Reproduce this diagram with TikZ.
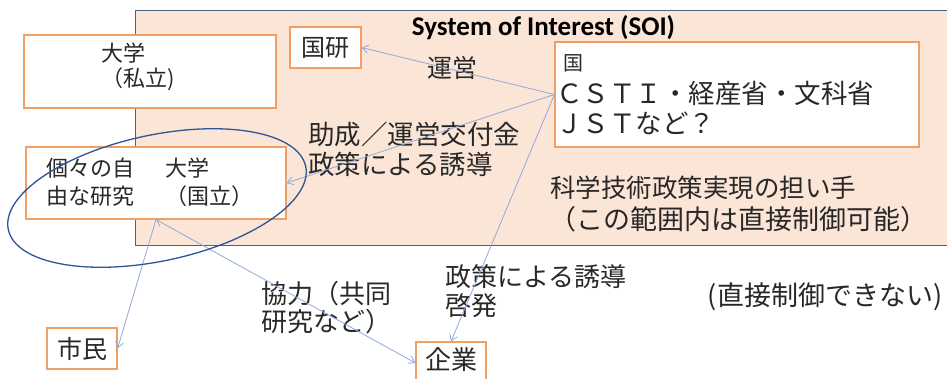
\documentclass[tikz,border=0pt]{standalone}
\usepackage{fontspec}
\setmainfont{Noto Sans CJK JP}
\newfontfamily\calfont{Carlito}
\usetikzlibrary{arrows.meta,shapes.geometric}
\definecolor{soifill}{RGB}{251,229,214}
\definecolor{soiline}{RGB}{80,96,126}
\definecolor{boxline}{RGB}{240,160,100}
\definecolor{arrowc}{RGB}{143,170,220}
\definecolor{ellc}{RGB}{47,85,151}
\definecolor{ink}{RGB}{40,40,40}
\newcommand{\fs}[2]{\fontsize{#1}{#2}\selectfont}
\begin{document}
\begin{tikzpicture}[x=1pt,y=-1pt,
  box/.style={draw=boxline,line width=1.1pt,fill=white,inner sep=0pt,rectangle},
  txt/.style={inner sep=0pt,anchor=west,align=left,text=ink},
  ctxt/.style={inner sep=0pt,align=center,text=ink},
  conn/.style={draw=arrowc,line width=0.8pt,-{Straight Barb[length=6pt,width=8pt]}},
  dconn/.style={draw=arrowc,line width=0.8pt,{Straight Barb[length=6pt,width=8pt]}-{Straight Barb[length=6pt,width=8pt]}},
]
\useasboundingbox (0,0) rectangle (947,378);
\node[draw=soiline,line width=1pt,fill=soifill,minimum width=830pt,minimum height=235pt,inner sep=0pt] (soi) at (550,127.5) {};
\node[inner sep=0pt,anchor=base,font={\calfont\bfseries\fs{27}{30}}] (title) at (543.5,35) {System of Interest (SOI)};

\node[box,minimum width=252pt,minimum height=73pt] (shiritsu) at (150,71.5) {};
\node[box,minimum width=71pt,minimum height=41pt] (kokken) at (325.5,47.5) {};
\node[box,minimum width=364pt,minimum height=105pt] (kuni) at (737,94.5) {};
\node[box,minimum width=260pt,minimum height=72pt] (kokuritsu) at (156,183) {};
\node[box,minimum width=70pt,minimum height=41pt] (shimin) at (82,348.5) {};
\node[box,minimum width=70pt,minimum height=42pt] (kigyo) at (451,363) {};

\node[txt,font={\fs{22}{25}}] (shiritsuT) at (101,66.5) {大学\\（私立)};
\node[ctxt,font={\fs{24}{28}}] (kokkenT) at (kokken.center) {国研};
\node[txt,font={\fs{20}{24}}] (kuniA) at (563,63) {国};
\node[txt,font={\fs{26.5}{30}}] (kuniB) at (556,93) {ＣＳＴＩ・経産省・文科省};
\node[txt,font={\fs{26.5}{30}}] (kuniC) at (556,123) {ＪＳＴなど？};
\node[txt,font={\fs{22}{28}}] (kokuritsuA) at (46,182) {個々の自\\由な研究};
\node[txt,font={\fs{22}{28}}] (kokuritsuB) at (165,182) {大学\\（国立）};
\node[ctxt,font={\fs{25}{28}}] (shiminT) at (shimin.center) {市民};
\node[ctxt,font={\fs{26}{28}}] (kigyoT) at (451,360) {企業};

\node[ctxt,font={\fs{25}{28}}] (unei) at (452,68) {運営};
\node[txt,font={\fs{26.5}{30}}] (josei) at (308,149) {助成／運営交付金\\政策による誘導};
\node[txt,font={\fs{25.5}{30}}] (ninaiA) at (550,188) {科学技術政策実現の担い手};
\node[txt,font={\fs{27}{30}}] (ninaiB) at (549,219) {（この範囲内は直接制御可能）};
\node[txt,font={\fs{26}{28}}] (kyoryoku) at (261,308) {協力（共同\\研究など）};
\node[txt,font={\fs{26}{29}}] (keihatsu) at (445,291.5) {政策による誘導\\啓発};
\node[ctxt,font={\fs{27}{30}}] (chokusetsu) at (825,297) {(直接制御できない)};

\draw[conn] (kuni.west) -- (kokken.east);
\draw[conn] (kuni.west) -- (kokuritsu.east);
\draw[conn] (kuni.west) -- (kigyo.north);
\draw[dconn] (kokuritsu.south) -- (kigyo.west);
\draw[conn] (kokuritsu.south) -- (shimin.east);

\node[ellipse,draw=ellc,line width=1.3pt,minimum width=304pt,minimum height=126pt,rotate=12,inner sep=0pt] (ell) at (157,198) {};
\end{tikzpicture}
\end{document}
